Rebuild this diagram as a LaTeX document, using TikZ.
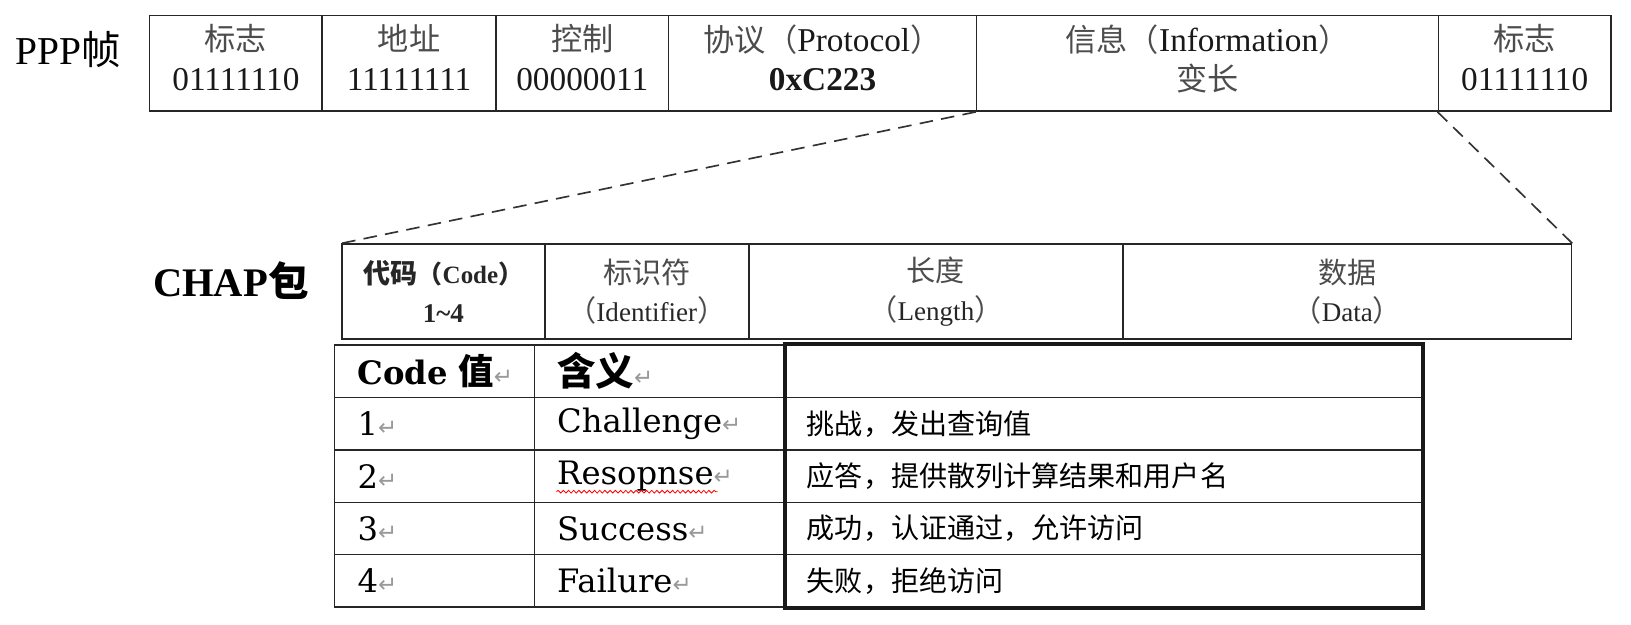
\documentclass[tikz,border=0pt]{standalone}
\usepackage{fontspec}
\setmainfont{Liberation Serif}
\newfontfamily\cjk{Noto Sans CJK SC}
\newfontfamily\dvs{DejaVu Serif}
\newfontfamily\dvsans{DejaVu Sans}
\usetikzlibrary{decorations.pathmorphing}
\newcommand\zh[1]{{\cjk\fontsize{30}{38}\selectfont\color{black!70}#1}}
\newcommand\zk[1]{{\cjk\fontsize{28}{37}\selectfont\color{black!70}#1}}
\newcommand\pmk{{\dvsans\fontsize{22}{22}\selectfont\color{black!40}↵}}
\tikzset{
 fr/.style={draw=black!85, line width=1.6, inner sep=0, anchor=north west, minimum height=92, align=center, text=black!90, text depth=11pt, font=\fontsize{32}{38}\selectfont},
 ch/.style={draw=black!85, line width=1.6, inner sep=0, anchor=north west, minimum height=91, align=center, text=black!85, font=\fontsize{26}{37}\selectfont},
 tca/.style={draw=black!85, line width=1.4, anchor=north west, minimum height=50.4, inner ysep=0, inner xsep=22, text width=148, align=left, font=\dvs\fontsize{31}{36}\selectfont},
 tcb/.style={draw=black!85, line width=1.4, anchor=north west, minimum height=50.4, inner ysep=0, inner xsep=22, text width=198, align=left, font=\dvs\fontsize{31}{36}\selectfont},
 tcc/.style={draw=black!85, line width=1.4, anchor=north west, minimum height=50.4, inner ysep=0, inner xsep=20, text width=572, align=left, font=\cjk\fontsize{27}{32}\selectfont},
 lbl/.style={inner sep=0, anchor=west},
 link/.style={draw=black!80, line width=1.6, dash pattern=on 13pt off 8pt}
}
\begin{document}
\begin{tikzpicture}[x=1pt,y=-1pt]
\useasboundingbox (0,0) rectangle (1568,600);
% labels
\node[lbl] (ppp) at (15,48) {\fontsize{38}{38}\selectfont PPP{\cjk 帧}};
\node[lbl] (chap) at (147,270) {\bfseries\fontsize{39}{39}\selectfont CHAP{\cjk 包}};
% PPP frame
\node[fr, minimum width=166] (f1) at (143,14) {\zh{标志}\\01111110};
\node[fr, minimum width=167] (f2) at (309,14) {\zh{地址}\\11111111};
\node[fr, minimum width=166] (f3) at (476,14) {\zh{控制}\\00000011};
\node[fr, minimum width=296] (f4) at (642,14) {\zh{协议（}Protocol\zh{）}\\\textbf{0xC223}};
\node[fr, minimum width=444] (f5) at (938,14) {\zh{信息（}Information\zh{）}\\\zh{变长}};
\node[fr, minimum width=166] (f6) at (1382,14) {\zh{标志}\\01111110};
% CHAP packet
\node[ch, minimum width=195] (k1) at (328,234) {\textbf{{\cjk\fontsize{26}{37}\selectfont 代码}{\fontsize{24}{37}\selectfont{\cjk （}Code{\cjk ）}}}\\\textbf{1\textasciitilde4}};
\node[ch, minimum width=196] (k2) at (523,234) {\zk{标识符}\\\zk{（}Identifier\zk{）}};
\node[ch, minimum width=360] (k3) at (719,234) {\zk{长度}\\\zk{（}Length\zk{）}};
\node[ch, minimum width=431] (k4) at (1079,234) {\zk{数据}\\\zk{（}Data\zk{）}};
% connectors
\draw[link] (f5.south west) -- (k1.north west);
\draw[link] (f6.south west) -- (k4.north east);
% table
\node[tca] (a0) at (321,331) {\mbox{\textbf{Code {\cjk\fontsize{34}{36}\selectfont 值}}\pmk}};
\node[tcb] (b0) at (513,331) {\mbox{{\cjk\bfseries\fontsize{37}{36}\selectfont 含义}\pmk}};
\node[tcc] (c0) at (755,331) {};
\node[tca] (a1) at (321,381.4) {1\pmk};
\node[tcb] (b1) at (513,381.4) {Challenge\pmk};
\node[tcc] (c1) at (755,381.4) {挑战，发出查询值};
\node[tca] (a2) at (321,431.8) {2\pmk};
\node[tcb] (b2) at (513,431.8) {Resopnse\pmk};
\node[tcc] (c2) at (755,431.8) {应答，提供散列计算结果和用户名};
\node[tca] (a3) at (321,482.2) {3\pmk};
\node[tcb] (b3) at (513,482.2) {Success\pmk};
\node[tcc] (c3) at (755,482.2) {成功，认证通过，允许访问};
\node[tca] (a4) at (321,532.6) {4\pmk};
\node[tcb] (b4) at (513,532.6) {Failure\pmk};
\node[tcc] (c4) at (755,532.6) {失败，拒绝访问};
\draw[line width=4, black!90] (c0.north west) rectangle (c4.south east);
\draw[red, line width=0.8, decorate, decoration={snake, amplitude=1.3pt, segment length=5pt}] ([xshift=22pt,yshift=-15pt]b2.west) -- ++(155,0);
\end{tikzpicture}
\end{document}
